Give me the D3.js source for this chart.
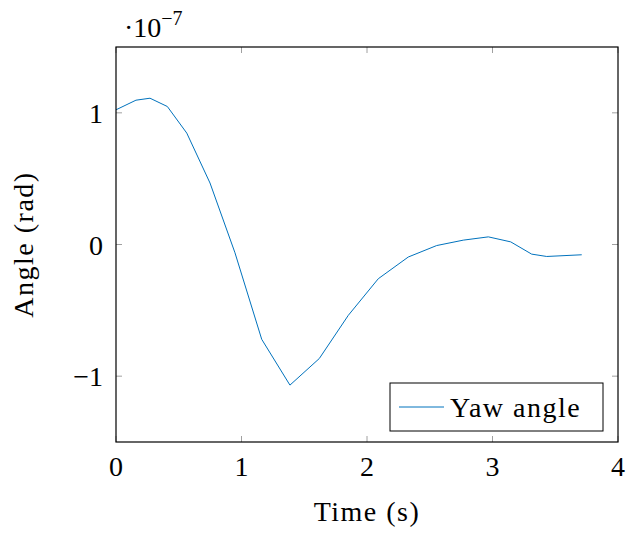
<!DOCTYPE html>
<html>
<head>
<meta charset="utf-8">
<script src="https://cdn.jsdelivr.net/npm/d3@7"></script>
<style>
  body { margin: 0; background: #fff; }
  svg text { font-family: "Liberation Serif", "DejaVu Serif", serif; fill: #000; }
</style>
</head>
<body>
<div id="chart"></div>
<script>
// time in seconds, yaw angle in units of 1e-7 rad
const timeValues = [0, 0.159, 0.271, 0.409, 0.564, 0.749, 0.948, 1.161, 1.386, 1.62,
  1.851, 2.09, 2.329, 2.555, 2.767, 2.967, 3.145, 3.312, 3.432, 3.711];
const yawValues = [1.023, 1.096, 1.111, 1.048, 0.846, 0.467, -0.063, -0.72, -1.068, -0.866,
  -0.538, -0.26, -0.095, -0.008, 0.033, 0.058, 0.02, -0.073, -0.091, -0.078];
const xTicks = [0, 1, 2, 3, 4];
const yTicks = [-1, 0, 1];
const yTickLabels = ['\u22121', '0', '1'];

const width = 626, height = 534;
const margin = { left: 116, right: 8, top: 47, bottom: 92 };
const plotW = width - margin.left - margin.right;
const plotH = height - margin.top - margin.bottom;
const fs = 28;

const svg = d3.select('#chart').append('svg').attr('width', width).attr('height', height);
const g = svg.append('g').attr('transform', `translate(${margin.left},${margin.top})`);

const x = d3.scaleLinear().domain([0, 4]).range([0, plotW]);
const y = d3.scaleLinear().domain([-1.5, 1.5]).range([plotH, 0]);

const tickLen = 6;
const tickColor = '#a0a0a0';

// ticks on all four sides, pointing inwards
xTicks.forEach(t => {
  g.append('line').attr('x1', x(t)).attr('x2', x(t)).attr('y1', plotH).attr('y2', plotH - tickLen)
    .attr('stroke', tickColor).attr('stroke-width', 1);
  g.append('line').attr('x1', x(t)).attr('x2', x(t)).attr('y1', 0).attr('y2', tickLen)
    .attr('stroke', tickColor).attr('stroke-width', 1);
  g.append('text').attr('x', x(t)).attr('y', plotH + 34).attr('text-anchor', 'middle')
    .attr('font-size', fs).text(t);
});
yTicks.forEach((t, i) => {
  g.append('line').attr('x1', 0).attr('x2', tickLen).attr('y1', y(t)).attr('y2', y(t))
    .attr('stroke', tickColor).attr('stroke-width', 1);
  g.append('line').attr('x1', plotW).attr('x2', plotW - tickLen).attr('y1', y(t)).attr('y2', y(t))
    .attr('stroke', tickColor).attr('stroke-width', 1);
  g.append('text').attr('x', -13).attr('y', y(t) + 10).attr('text-anchor', 'end')
    .attr('font-size', fs).text(yTickLabels[i]);
});

const data = timeValues.map((t, i) => ({ t: t, v: yawValues[i] }));
const line = d3.line().x(d => x(d.t)).y(d => y(d.v));

g.append('path').datum(data).attr('d', line)
  .attr('fill', 'none').attr('stroke', '#0072bd').attr('stroke-width', 1);

// frame
g.append('rect').attr('x', 0).attr('y', 0).attr('width', plotW).attr('height', plotH)
  .attr('fill', 'none').attr('stroke', '#000').attr('stroke-width', 1.2);

// exponent label
const expo = svg.append('text').attr('x', 124).attr('y', 37).attr('font-size', fs);
expo.append('tspan').text('\u00b710');
expo.append('tspan').attr('dy', -12).attr('font-size', 20).text('\u22127');

// axis labels
svg.append('text').attr('x', margin.left + plotW / 2).attr('y', 521).attr('text-anchor', 'middle')
  .attr('font-size', fs).attr('letter-spacing', 1.5).text('Time (s)');
svg.append('text').attr('transform', `translate(33,${margin.top + plotH / 2}) rotate(-90)`)
  .attr('text-anchor', 'middle').attr('font-size', fs).attr('letter-spacing', 1.5).text('Angle (rad)');

// legend
const legend = g.append('g').attr('transform', `translate(${390 - margin.left},${383 - margin.top})`);
legend.append('rect').attr('width', 213).attr('height', 48)
  .attr('fill', '#fff').attr('stroke', '#000').attr('stroke-width', 1);
legend.append('line').attr('x1', 9).attr('x2', 54).attr('y1', 24).attr('y2', 24)
  .attr('stroke', '#0072bd').attr('stroke-width', 1);
legend.append('text').attr('x', 60).attr('y', 34).attr('font-size', fs).attr('letter-spacing', 1.5)
  .text('Yaw angle');
</script>
</body>
</html>
